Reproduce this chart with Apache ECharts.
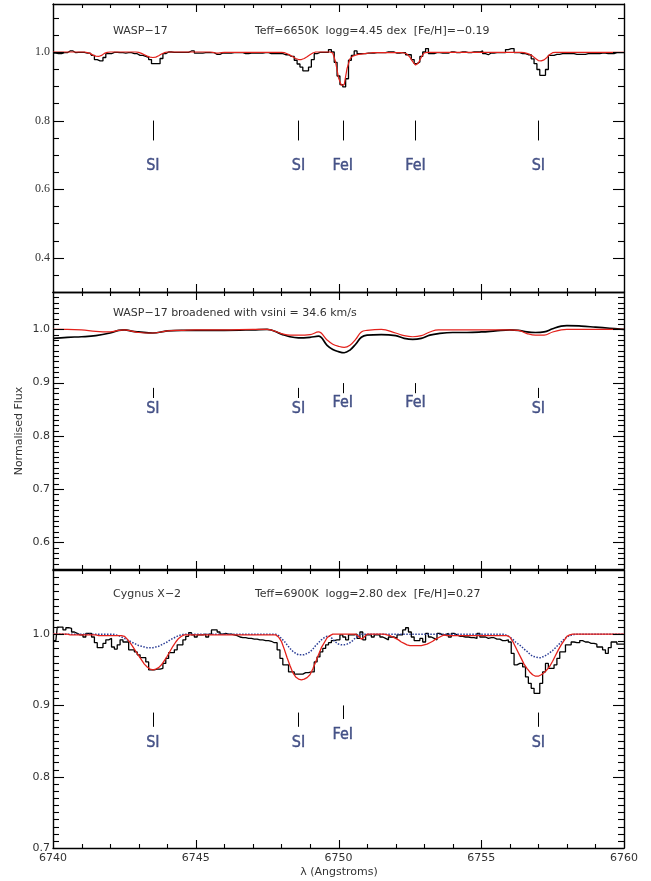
<!DOCTYPE html>
<html>
<head>
<meta charset="utf-8">
<script src="https://cdn.jsdelivr.net/npm/echarts@6/dist/echarts.min.js"></script>
<style>
html,body{margin:0;padding:0;background:#fff;}
#chart{width:651px;height:881px;}
</style>
</head>
<body>
<div id="chart"></div>
<script>
// ---------- DATA ----------
// uniform wavelength sampling grid for panels 1 and 3 (Angstrom)
const lambdaStart = 6740;
const lambdaStep = 0.1;

// Panel 1: WASP-17 observed (histogram) and model (red)
const p1Obs = [
0.997,0.997,0.995,0.995,0.998,0.998,1.003,1.003,0.998,0.999,
0.999,0.999,0.997,0.997,0.990,0.978,0.974,0.974,0.984,0.995,
0.995,0.999,0.999,0.998,0.998,0.997,0.998,0.998,0.995,0.995,
0.990,0.990,0.987,0.984,0.978,0.966,0.966,0.966,0.981,0.995,
1.000,1.000,0.999,0.999,0.999,0.999,0.999,0.999,1.003,1.003,
0.997,0.997,0.997,0.998,0.998,0.998,0.998,0.993,0.993,0.997,
0.997,0.997,0.997,0.998,0.998,0.998,0.998,0.995,0.995,0.997,
0.997,0.997,0.997,0.997,0.998,0.998,0.995,0.995,0.995,0.995,
0.995,0.992,0.992,0.987,0.987,0.976,0.965,0.956,0.945,0.945,
0.956,0.978,0.995,0.999,0.999,0.999,0.999,1.007,1.000,0.970,
0.930,0.905,0.898,0.922,0.976,0.990,1.003,0.995,0.995,0.995,
0.997,0.997,0.997,0.998,0.998,0.998,0.998,1.000,1.000,1.000,
0.997,0.997,0.998,0.998,0.992,0.992,0.978,0.966,0.971,0.987,
1.000,1.010,0.995,0.995,0.998,0.998,0.997,0.997,0.997,1.000,
1.000,0.998,0.998,1.000,1.000,0.998,0.998,1.000,1.000,1.000,
1.003,0.995,0.992,0.997,0.997,0.998,0.998,0.998,0.998,1.007,
1.010,1.010,0.998,0.998,0.995,0.995,0.992,0.992,0.980,0.966,
0.949,0.932,0.932,0.949,0.990,0.990,0.993,0.993,0.995,0.995,
0.995,0.995,0.995,0.993,0.993,0.993,0.993,0.995,0.995,0.995,
0.995,0.995,0.997,0.997,0.995,0.995,0.995,0.998,0.998,0.998,0.998
];
const p1Model = [
1.000,1.000,1.000,1.000,1.000,1.000,1.000,1.000,1.000,1.000,
1.000,1.000,0.998,0.996,0.991,0.988,0.987,0.990,0.996,0.999,
1.000,1.000,1.000,1.000,1.000,1.000,1.000,1.000,1.000,1.000,
0.999,0.996,0.992,0.988,0.985,0.984,0.985,0.989,0.994,0.998,
1.000,1.000,1.000,1.000,1.000,1.000,1.000,1.000,1.000,1.000,
1.000,1.000,1.000,1.000,1.000,1.000,0.999,0.997,0.997,0.998,
0.999,0.999,0.999,0.999,0.999,0.999,0.999,0.999,0.999,0.999,
0.999,0.999,0.999,0.999,0.999,0.999,0.999,0.999,0.999,0.999,
0.999,0.998,0.995,0.991,0.986,0.981,0.978,0.978,0.981,0.986,
0.992,0.997,1.000,1.000,1.000,1.000,1.000,1.000,0.997,0.970,
0.925,0.903,0.905,0.952,0.980,0.988,0.991,0.993,0.994,0.995,
0.996,0.997,0.998,0.998,0.998,0.998,0.998,0.998,0.998,0.998,
0.998,0.998,0.998,0.997,0.994,0.985,0.972,0.962,0.968,0.985,
0.997,0.999,0.999,0.999,0.999,0.999,0.999,0.999,0.999,0.999,
0.999,0.999,0.999,0.999,0.999,0.999,0.999,0.999,0.999,0.999,
0.999,0.999,0.999,0.999,0.999,0.999,0.999,0.999,0.999,0.999,
0.999,0.999,0.999,0.999,0.999,0.998,0.996,0.993,0.988,0.981,
0.975,0.974,0.977,0.984,0.993,0.998,0.999,0.999,0.999,0.999,
0.999,0.999,0.999,0.999,0.999,0.999,0.999,0.999,0.999,0.999,
0.999,0.999,0.999,0.999,0.999,0.999,0.999,0.999,0.999,0.999,0.999
];

// Panel 2: WASP-17 broadened (black) and model (red), sampled at these wavelengths
const p2Wave = [6740.0,6740.5,6741.0,6741.5,6742.0,6742.3,6742.5,6742.8,6743.0,6743.5,
6744.0,6744.5,6745.0,6746.0,6747.0,6747.5,6748.0,6748.3,6748.6,6749.0,
6749.3,6749.6,6749.8,6750.0,6750.2,6750.4,6750.6,6750.8,6751.0,6751.5,
6752.0,6752.3,6752.6,6752.9,6753.2,6753.5,6754.0,6754.5,6755.0,6755.5,
6756.0,6756.3,6756.6,6756.9,6757.2,6757.5,6757.8,6758.0,6758.5,6759.0,
6759.5,6760.0];
const p2Obs = [0.983,0.985,0.986,0.988,0.993,0.998,0.999,0.996,0.995,0.993,
0.997,0.998,0.998,0.998,0.999,1.000,0.991,0.986,0.984,0.985,
0.987,0.970,0.962,0.958,0.956,0.961,0.972,0.985,0.989,0.990,
0.988,0.983,0.981,0.983,0.989,0.992,0.994,0.994,0.995,0.997,
0.999,0.998,0.995,0.994,0.995,1.001,1.006,1.007,1.006,1.004,
1.002,1.000];
const p2Model = [1.000,1.000,0.999,0.996,0.995,0.998,0.999,0.996,0.994,0.993,
0.997,0.998,0.999,0.999,1.000,1.000,0.992,0.989,0.989,0.990,
0.995,0.980,0.972,0.968,0.966,0.970,0.981,0.995,0.998,1.000,
0.993,0.988,0.986,0.988,0.995,0.999,0.999,0.999,0.999,0.999,
0.999,0.998,0.992,0.989,0.989,0.995,0.999,1.000,1.000,1.000,
1.000,1.000];

// Panel 3: Cygnus X-2 observed (histogram), model (red), broadened template (blue dotted)
const p3Obs = [
0.991,0.991,1.010,1.010,1.006,1.009,1.008,1.003,1.001,0.999,
0.999,0.996,1.001,1.001,0.996,0.988,0.981,0.981,0.987,0.992,
0.994,0.982,0.979,0.985,0.992,0.989,0.989,0.978,0.978,0.975,
0.971,0.967,0.967,0.961,0.950,0.950,0.951,0.951,0.952,0.959,
0.966,0.974,0.974,0.978,0.985,0.985,0.992,0.997,1.002,0.999,
0.996,0.999,0.999,1.000,0.996,1.000,1.006,1.006,1.003,1.000,
1.001,1.000,1.000,0.999,0.998,0.996,0.995,0.995,0.994,0.994,
0.993,0.993,0.992,0.992,0.991,0.991,0.990,0.988,0.988,0.978,
0.966,0.957,0.957,0.947,0.947,0.944,0.944,0.944,0.946,0.946,
0.947,0.947,0.961,0.968,0.975,0.980,0.985,0.988,0.991,0.992,
0.992,0.999,0.996,0.992,0.999,0.999,1.000,0.994,1.003,0.992,
0.999,0.999,0.996,0.999,0.999,0.996,0.994,0.992,0.996,0.996,
0.994,0.999,0.999,1.006,1.009,1.003,0.996,0.991,0.991,0.994,
0.989,1.001,0.996,0.994,0.992,1.001,0.999,0.999,1.001,0.996,
1.001,0.999,0.997,0.997,0.996,0.996,0.995,0.995,0.994,1.001,
0.996,0.996,0.994,0.995,0.995,0.993,0.993,0.991,0.991,0.992,
0.989,0.973,0.957,0.959,0.959,0.954,0.940,0.931,0.924,0.917,
0.917,0.931,0.947,0.959,0.952,0.952,0.957,0.966,0.975,0.975,
0.985,0.985,0.989,0.988,0.988,0.991,0.989,0.989,0.987,0.987,
0.986,0.982,0.982,0.978,0.973,0.981,0.989,0.989,0.986,0.986,0.986
];
const p3Model = [
1.000,1.000,1.000,1.000,1.000,1.000,0.999,0.999,0.999,0.999,
0.999,0.999,0.999,0.999,0.999,0.999,0.998,0.998,0.998,0.998,
0.998,0.998,0.998,0.998,0.998,0.997,0.993,0.988,0.982,0.976,
0.970,0.964,0.958,0.954,0.951,0.950,0.951,0.953,0.957,0.963,
0.969,0.976,0.983,0.989,0.994,0.997,0.999,0.999,0.999,0.999,
0.999,0.999,0.999,0.999,0.999,0.999,0.999,0.999,0.999,0.999,
0.999,0.999,0.999,0.999,0.999,0.999,0.999,0.999,0.999,0.999,
0.999,0.999,0.999,0.999,0.999,0.999,0.999,0.999,0.999,0.996,
0.990,0.979,0.967,0.956,0.946,0.940,0.937,0.936,0.937,0.939,
0.943,0.951,0.961,0.971,0.981,0.988,0.995,0.998,1.000,1.000,
1.000,1.000,1.000,1.000,1.000,1.000,1.000,0.997,0.993,0.996,
1.000,1.000,1.000,1.000,1.000,1.000,1.000,0.999,0.998,0.996,
0.994,0.992,0.989,0.987,0.985,0.984,0.984,0.984,0.984,0.984,
0.985,0.986,0.988,0.990,0.993,0.995,0.997,0.999,0.998,0.998,
0.998,0.998,0.998,0.998,0.998,0.998,0.998,0.998,0.998,0.998,
0.998,0.998,0.998,0.998,0.998,0.998,0.998,0.998,0.998,0.998,
0.996,0.990,0.982,0.974,0.966,0.958,0.952,0.947,0.943,0.941,
0.941,0.943,0.946,0.950,0.955,0.962,0.970,0.978,0.985,0.991,
0.997,0.999,1.000,1.000,1.000,1.000,1.000,1.000,1.000,1.000,
1.000,1.000,1.000,1.000,1.000,1.000,1.000,1.000,1.000,1.000,1.000
];
const p3Template = [
1.000,1.000,1.000,1.000,1.000,1.000,1.000,1.000,1.000,1.000,
1.000,1.000,1.000,1.000,1.000,1.000,1.000,1.000,1.000,1.000,
1.000,1.000,0.999,0.998,0.996,0.994,0.992,0.990,0.988,0.986,
0.984,0.983,0.982,0.981,0.981,0.981,0.982,0.983,0.985,0.987,
0.989,0.992,0.994,0.996,0.998,0.999,1.000,1.000,1.000,1.000,
1.000,1.000,1.000,1.000,1.000,1.000,1.000,1.000,1.000,1.000,
1.000,1.000,1.000,1.000,1.000,1.000,1.000,1.000,1.000,1.000,
1.000,1.000,1.000,1.000,1.000,1.000,1.000,1.000,1.000,0.998,
0.994,0.990,0.985,0.980,0.976,0.973,0.971,0.971,0.971,0.973,
0.975,0.979,0.984,0.988,0.992,0.995,0.997,0.997,0.993,0.989,
0.986,0.985,0.985,0.986,0.988,0.991,0.995,0.998,1.000,1.000,
1.000,1.000,1.000,1.000,1.000,1.000,1.000,1.000,1.000,1.000,
1.000,1.000,1.000,1.000,1.000,1.000,1.000,1.000,1.000,1.000,
1.000,1.000,1.000,1.000,1.000,1.000,1.000,1.000,1.000,1.000,
1.000,1.000,1.000,1.000,1.000,1.000,1.000,1.000,1.000,1.000,
1.000,1.000,1.000,1.000,1.000,1.000,1.000,1.000,1.000,0.998,
0.996,0.993,0.989,0.986,0.983,0.979,0.976,0.972,0.969,0.968,
0.967,0.967,0.969,0.971,0.974,0.977,0.981,0.985,0.989,0.993,
0.996,0.998,0.999,1.000,1.000,1.000,1.000,1.000,1.000,1.000,
1.000,1.000,1.000,1.000,1.000,1.000,1.000,1.000,1.000,1.000,1.000
];

// Line identifications
const p1LineWave = [6743.5, 6748.6, 6750.15, 6752.7, 6757.0];
const p1LineName = ['SI', 'SI', 'FeI', 'FeI', 'SI'];
const p2LineWave = [6743.5, 6748.6, 6750.15, 6752.7, 6757.0];
const p2LineName = ['SI', 'SI', 'FeI', 'FeI', 'SI'];
const p3LineWave = [6743.5, 6748.6, 6750.15, 6757.0];
const p3LineName = ['SI', 'SI', 'FeI', 'SI'];

// Axis tick labels
const xTickLabels = [6740, 6745, 6750, 6755, 6760];
const p1YLabels = [0.4, 0.6, 0.8, 1.0];
const p2YLabels = [0.6, 0.7, 0.8, 0.9, 1.0];
const p3YLabels = [0.7, 0.8, 0.9, 1.0];

// ---------- LAYOUT / STYLE ----------
const SANS = "DejaVu Sans, sans-serif";
const SERIF = "Liberation Serif, DejaVu Serif, serif";
const COND = "DejaVu Sans Condensed, Liberation Sans Narrow, sans-serif";
const NAVY = '#1f2e6e';
const RED = '#e3211b';
const BLUE = '#2b3d96';
const TXT = '#333';
const X_MIN = 6740, X_MAX = 6760;

const panels = [
  {top: 4, height: 288, min: 0.30, max: 1.14, minor: 0.05, labels: p1YLabels, font: SERIF, fsize: 12, majLen: 11, minLen: 6,
   mark: {SI: [0.80, 0.742, 0.667], FeI: [0.80, 0.742, 0.667]}, wave: p1LineWave, names: p1LineName},
  {top: 292, height: 277, min: 0.55, max: 1.07, minor: 0.01, labels: p2YLabels, font: SANS, fsize: 11, majLen: 11, minLen: 6,
   mark: {SI: [0.890, 0.871, 0.850], FeI: [0.899, 0.880, 0.862]}, wave: p2LineWave, names: p2LineName},
  {top: 570, height: 278, min: 0.70, max: 1.09, minor: 0.01, labels: p3YLabels, font: SANS, fsize: 11, majLen: 11, minLen: 6,
   mark: {SI: [0.890, 0.870, 0.848], FeI: [0.900, 0.881, 0.859]}, wave: p3LineWave, names: p3LineName}
];
const X_MAJ_LEN = 8, X_MIN_LEN = 4;

// tick positions (axis decoration only)
function tickRange(lo, hi, step) {
  const out = [];
  const n = Math.round((hi - lo) / step);
  for (let k = 0; k <= n; k++) out.push(+(lo + k * step).toFixed(4));
  return out;
}
const xAllTicks = tickRange(X_MIN + 1, X_MAX - 1, 1);

const grids = [], xAxes = [], yAxes = [], series = [];
const axLine = () => ({show: true, lineStyle: {color: '#000', width: 1.4}});

panels.forEach((p, g) => {
  grids.push({left: 53, right: 27, top: p.top, height: p.height, outerBoundsMode: 'none', containLabel: false});
  ['bottom', 'top'].forEach(pos => {
    const showLab = (g === 2 && pos === 'bottom');
    xAxes.push({
      type: 'value', gridIndex: g, position: pos, min: X_MIN, max: X_MAX, interval: 5,
      axisLine: axLine(),
      axisTick: {show: false},
      axisLabel: {show: showLab, customValues: xTickLabels, color: TXT, fontFamily: SANS, fontSize: 11, margin: 5,
        formatter: v => String(Math.round(v))},
      splitLine: {show: false}
    });
  });
  ['left', 'right'].forEach(pos => {
    yAxes.push({
      type: 'value', gridIndex: g, position: pos, min: p.min, max: p.max,
      axisLine: axLine(),
      axisTick: {show: false},
      axisLabel: {show: pos === 'left', customValues: p.labels, color: TXT, fontFamily: p.font, fontSize: p.fsize, margin: 3,
        formatter: v => v.toFixed(1)},
      splitLine: {show: false}
    });
  });

  // tick marks: [x, y, direction code, length]; placed through the grid's own scales
  const ticks = [];
  const yTicks = tickRange(p.min, p.max, p.minor).filter(v => v > p.min + 1e-6 && v < p.max - 1e-6);
  yTicks.forEach(v => {
    const isMaj = p.labels.some(m => Math.abs(m - v) < 1e-6);
    const len = isMaj ? p.majLen : p.minLen;
    ticks.push([X_MIN, v, 0, len]);
    ticks.push([X_MAX, v, 1, len]);
  });
  xAllTicks.forEach(v => {
    const len = (v % 5 === 0) ? X_MAJ_LEN : X_MIN_LEN;
    ticks.push([v, p.min, 2, len]);
    ticks.push([v, p.max, 3, len]);
  });
  series.push({
    type: 'custom', xAxisIndex: 2 * g, yAxisIndex: 2 * g, silent: true, z: 6, clip: false,
    encode: {x: 0, y: 1},
    data: ticks,
    renderItem: (params, api) => {
      const pt = api.coord([api.value(0), api.value(1)]);
      const dir = api.value(2), len = api.value(3);
      let x1 = pt[0], y1 = pt[1], x2 = x1, y2 = y1;
      if (dir === 0) { y1 = y2 = Math.round(y1) + 0.5; x2 = x1 + len; }
      else if (dir === 1) { y1 = y2 = Math.round(y1) + 0.5; x2 = x1 - len; }
      else if (dir === 2) { x1 = x2 = Math.round(x1) + 0.5; y2 = y1 - len; }
      else { x1 = x2 = Math.round(x1) + 0.5; y2 = y1 + len; }
      return {type: 'line', shape: {x1: x1, y1: y1, x2: x2, y2: y2}, style: {stroke: '#000', lineWidth: 1.1}};
    }
  });
});

const gridPairs = arr => arr.map((v, i) => [+(lambdaStart + i * lambdaStep).toFixed(2), v]);
const xyPairs = (xs, ys) => xs.map((x, i) => [x, ys[i]]);

function histSeries(g, data) {
  return {type: 'line', xAxisIndex: 2 * g, yAxisIndex: 2 * g, step: 'middle', symbol: 'none', data: data,
    lineStyle: {color: '#000', width: 1.3}, silent: true, z: 3};
}
function curveSeries(g, data, color, width, type, smooth) {
  return {type: 'line', xAxisIndex: 2 * g, yAxisIndex: 2 * g, symbol: 'none', smooth: smooth || false, data: data,
    lineStyle: {color: color, width: width, type: type || 'solid'}, silent: true, z: 4};
}
function markerSeries(g) {
  const p = panels[g];
  return {
    type: 'scatter', xAxisIndex: 2 * g, yAxisIndex: 2 * g, symbolSize: 0, silent: true, z: 5,
    data: p.wave.map((w, i) => ({name: p.names[i], value: [w, p.mark[p.names[i]][2]]})),
    label: {show: true, position: 'inside', formatter: q => q.name, color: NAVY, fontFamily: COND, fontSize: 16,
      textBorderColor: NAVY, textBorderWidth: 0.4},
    markLine: {
      silent: true, symbol: ['none', 'none'], label: {show: false}, animation: false,
      lineStyle: {color: '#000', width: 1, type: 'solid'},
      emphasis: {disabled: true},
      data: p.wave.map((w, i) => [{coord: [w, p.mark[p.names[i]][0]]}, {coord: [w, p.mark[p.names[i]][1]]}])
    }
  };
}

series.push(histSeries(0, gridPairs(p1Obs)));
series.push(curveSeries(0, gridPairs(p1Model), RED, 1.2));
series.push(markerSeries(0));

series.push(curveSeries(1, xyPairs(p2Wave, p2Obs), '#000', 1.7, 'solid', 0.4));
series.push(curveSeries(1, xyPairs(p2Wave, p2Model), RED, 1.2, 'solid', 0.4));
series.push(markerSeries(1));

series.push(histSeries(2, gridPairs(p3Obs)));
series.push(curveSeries(2, gridPairs(p3Template), BLUE, 1.5, 'dotted'));
series.push(curveSeries(2, gridPairs(p3Model), RED, 1.3));
series.push(markerSeries(2));

const txt = (x, y, s) => ({type: 'text', x: x, y: y, silent: true,
  style: {text: s, fill: TXT, fontFamily: SANS, fontSize: 11, align: 'left', verticalAlign: 'middle'}});

const graphic = [
  txt(113, 31, 'WASP\u221217'),
  txt(255, 31, 'Teff=6650K  logg=4.45 dex  [Fe/H]=\u22120.19'),
  txt(113, 313, 'WASP\u221217 broadened with vsini = 34.6 km/s'),
  txt(113, 594, 'Cygnus X\u22122'),
  txt(255, 594, 'Teff=6900K  logg=2.80 dex  [Fe/H]=0.27'),
  {type: 'text', x: 339, y: 872, silent: true,
   style: {text: '\u03bb (Angstroms)', fill: TXT, fontFamily: SANS, fontSize: 11, align: 'center', verticalAlign: 'middle'}},
  {type: 'text', x: 19, y: 431, rotation: Math.PI / 2, silent: true,
   style: {text: 'Normalised Flux', fill: TXT, fontFamily: SANS, fontSize: 11, align: 'center', verticalAlign: 'middle'}}
];

const chart = echarts.init(document.getElementById('chart'), null, {renderer: 'canvas'});
chart.setOption({
  animation: false,
  backgroundColor: '#fff',
  grid: grids,
  xAxis: xAxes,
  yAxis: yAxes,
  series: series,
  graphic: graphic
});
</script>
</body>
</html>
